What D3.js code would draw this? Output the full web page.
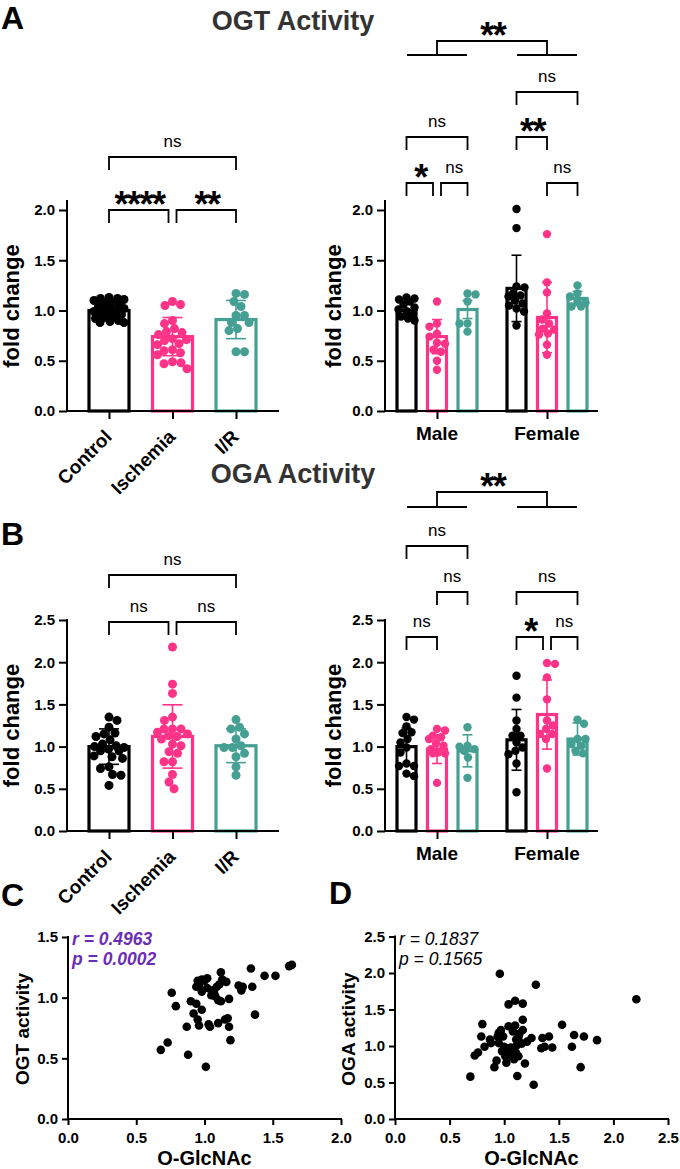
<!DOCTYPE html>
<html><head><meta charset="utf-8">
<script src="https://cdn.jsdelivr.net/npm/d3@7"></script>
<style>body{margin:0;background:#fff}</style>
</head><body><svg id="c" width="680" height="1169"></svg>
<script>
// ---------------- DATA ----------------
const groups = ["Control", "Ischemia", "I/R"];
const sexes = ["Male", "Female"];
const groupColors = ["#000000", "#FF3388", "#45A093"];

const yTicksOGT = [0, 0.5, 1.0, 1.5, 2.0];
const yTicksOGA = [0, 0.5, 1.0, 1.5, 2.0, 2.5];
const xTicksC = [0, 0.5, 1.0, 1.5, 2.0];
const yTicksC = [0, 0.5, 1.0, 1.5];
const xTicksD = [0, 0.5, 1.0, 1.5, 2.0, 2.5];
const yTicksD = [0, 0.5, 1.0, 1.5, 2.0, 2.5];

// OGT activity, pooled
const ogtControl = [1.13,1.12,1.12,1.11,1.10,1.09,1.07,1.05,1.04,1.03,1.02,1.01,1.00,0.99,0.98,0.97,0.96,0.95,0.93,0.92,0.90,0.89,0.88,0.88];
const ogtIschemia = [1.09,1.06,1.05,0.90,0.87,0.82,0.79,0.78,0.76,0.72,0.71,0.70,0.67,0.66,0.61,0.60,0.58,0.56,0.49,0.48,0.47,0.42];
const ogtIR = [1.17,1.16,1.09,1.04,0.95,0.95,0.88,0.88,0.82,0.80,0.59,0.59];
const ogtMean = [1.00, 0.74, 0.91];
const ogtSD = [0.07, 0.19, 0.19];

// OGT activity by sex
const ogtMaleControl = [1.13,1.12,1.11,1.09,1.06,1.03,1.01,0.99,0.97,0.94,0.92,0.90];
const ogtMaleIschemia = [1.09,0.87,0.84,0.77,0.74,0.68,0.67,0.61,0.59,0.50,0.41];
const ogtMaleIR = [1.17,1.16,1.09,0.87,0.87,0.79];
const ogtFemaleControl = [2.01,1.82,1.24,1.23,1.17,1.15,1.14,1.10,1.07,1.05,1.02,0.99,0.85];
const ogtFemaleIschemia = [1.76,1.28,1.18,0.97,0.91,0.87,0.82,0.81,0.77,0.76,0.66,0.56];
const ogtFemaleIR = [1.25,1.17,1.14,1.09,1.08,1.04,1.04];
const ogtMaleMean = [1.00, 0.74, 1.01];
const ogtMaleSD = [0.07, 0.17, 0.09];
const ogtFemaleMean = [1.22, 0.93, 1.12];
const ogtFemaleSD = [0.33, 0.35, 0.07];

// OGA activity, pooled
const ogaControl = [1.35,1.31,1.23,1.16,1.15,1.12,1.08,1.03,1.01,1.00,0.99,0.97,0.95,0.95,0.89,0.88,0.86,0.76,0.74,0.67,0.66,0.54];
const ogaIschemia = [2.18,1.74,1.63,1.35,1.31,1.21,1.21,1.21,1.17,1.15,1.13,1.12,1.09,1.03,1.01,0.94,0.92,0.82,0.82,0.67,0.58,0.50];
const ogaIR = [1.32,1.23,1.21,1.15,1.09,1.01,0.99,0.99,0.92,0.88,0.76,0.66];
const ogaMean = [1.00, 1.12, 1.01];
const ogaSD = [0.21, 0.375, 0.20];

// OGA activity by sex
const ogaMaleControl = [1.35,1.32,1.24,1.17,1.16,1.09,1.05,0.99,0.93,0.80,0.77,0.77,0.68,0.65];
const ogaMaleIschemia = [1.21,1.19,1.13,1.11,1.09,1.04,1.01,0.97,0.93,0.92,0.92,0.57];
const ogaMaleIR = [1.23,1.01,1.00,0.97,0.95,0.87,0.63];
const ogaFemaleControl = [1.84,1.58,1.31,1.21,1.13,1.13,1.05,0.99,0.95,0.91,0.80,0.46];
const ogaFemaleIschemia = [1.99,1.98,1.82,1.56,1.31,1.25,1.21,1.15,1.15,1.09,0.74];
const ogaFemaleIR = [1.32,1.27,1.09,1.09,1.03,1.01,0.95,0.92];
const ogaMaleMean = [1.00, 0.97, 0.95];
const ogaMaleSD = [0.22, 0.17, 0.19];
const ogaFemaleMean = [1.08, 1.38, 1.09];
const ogaFemaleSD = [0.36, 0.41, 0.19];

// significance comparisons: [fromGroup, toGroup, label, level]
const ogtComparisons = [[0,1,"****",0],[1,2,"**",0],[0,2,"ns",1]];
const ogtSexComparisons = [["Male",0,1,"*",0],["Male",1,2,"ns",0],["Female",1,2,"ns",0],["Male",0,2,"ns",1],["Female",0,1,"**",1],["Female",0,2,"ns",2]];
const ogtSexEffect = "**";
const ogaComparisons = [[0,1,"ns",0],[1,2,"ns",0],[0,2,"ns",1]];
const ogaSexComparisons = [["Male",0,1,"ns",0],["Female",0,1,"*",0],["Female",1,2,"ns",0],["Male",1,2,"ns",1],["Female",0,2,"ns",1],["Male",0,2,"ns",2]];
const ogaSexEffect = "**";

// correlations
const ogtCorrX = [0.68,0.73,0.76,0.79,0.87,0.88,0.90,0.92,0.94,0.94,0.95,0.98,0.98,0.95,0.96,0.98,1.01,1.02,1.02,1.03,1.04,1.05,1.06,1.08,1.09,1.10,1.10,1.11,1.12,1.13,1.15,1.16,1.17,1.18,1.18,1.19,1.25,1.27,1.28,1.34,1.35,1.37,1.44,1.52,1.62,1.64,0.96,1.00,1.07,1.12];
const ogtCorrY = [0.57,0.63,1.04,0.93,0.76,0.53,0.97,0.87,0.95,1.09,1.14,1.15,0.90,0.82,0.77,1.05,0.43,1.16,1.08,0.78,0.76,1.02,1.06,1.01,1.09,0.98,0.79,1.11,1.21,1.15,0.82,1.13,0.83,0.99,0.76,0.65,1.10,1.06,1.09,1.24,1.09,0.86,1.18,1.18,1.26,1.27,1.10,1.14,1.04,0.97];
const ogaCorrX = [0.69,0.73,0.76,0.80,0.79,0.82,0.87,0.88,0.91,0.93,0.94,0.95,0.96,0.97,0.95,0.98,0.99,1.00,1.01,1.02,1.04,1.04,1.04,1.05,1.08,1.10,1.10,1.11,1.11,1.11,1.12,1.13,1.14,1.15,1.17,1.17,1.17,1.16,1.19,1.21,1.25,1.27,1.29,1.35,1.34,1.37,1.41,1.44,1.53,1.62,1.64,1.70,1.73,1.85,2.21,1.07,1.06,1.09,0.97,1.13];
const ogaCorrY = [0.58,0.87,0.91,1.30,1.13,0.99,1.09,1.04,0.71,0.80,1.13,1.18,1.99,1.22,1.04,0.93,1.13,0.99,0.86,0.77,1.57,1.27,0.96,0.90,1.20,1.62,1.28,1.09,1.00,0.90,0.59,0.86,1.17,1.04,1.58,1.36,1.22,1.03,0.76,1.06,1.11,0.47,1.84,1.11,0.97,0.99,1.13,0.98,1.29,0.99,1.15,0.71,1.13,1.08,1.64,0.86,0.98,0.82,1.16,1.12];
const ogtCorrStats = ["r = 0.4963", "p = 0.0002"];
const ogaCorrStats = ["r = 0.1837", "p = 0.1565"];

// ---------------- DRAWING ----------------
const FONT = '"Liberation Sans", Arial, Helvetica, sans-serif';
const svg = d3.select("#c");
svg.style("font-family", FONT);

function text(g, x, y, s, o = {}) {
  const t = g.append("text").attr("x", x).attr("y", y).text(s)
    .attr("font-family", o.family || FONT)
    .attr("font-size", o.size || 15)
    .attr("font-weight", o.weight || "normal")
    .attr("fill", o.fill || "#000")
    .attr("text-anchor", o.anchor || "start");
  if (o.style) t.attr("font-style", o.style);
  if (o.ls != null) t.attr("letter-spacing", o.ls);
  if (o.transform) t.attr("transform", o.transform);
  return t;
}

function yAxis(g, x, y, ticks, top, tickLen) {
  g.append("line").attr("x1", x).attr("x2", x).attr("y1", y(0)).attr("y2", top)
    .attr("stroke", "#000").attr("stroke-width", 2).attr("stroke-linecap", "square");
  const a = g.append("g").attr("transform", `translate(${x},0)`)
    .call(d3.axisLeft(y).tickValues(ticks).tickSize(tickLen).tickPadding(4).tickFormat(d3.format(".1f")));
  a.select(".domain").remove();
  a.attr("font-family", FONT).attr("font-size", 15).attr("font-weight", "bold");
  a.selectAll("line").attr("stroke-width", 2);
}

function xAxisLine(g, x1, x2, y0) {
  g.append("line").attr("x1", x1).attr("x2", x2).attr("y1", y0).attr("y2", y0)
    .attr("stroke", "#000").attr("stroke-width", 2).attr("stroke-linecap", "square");
}

function swarm(values, y, r, maxHalf) {
  const order = d3.range(values.length).sort((a, b) => values[b] - values[a]);
  const placed = [];
  const off = new Array(values.length).fill(0);
  const minD = 2 * r * 0.92;
  order.forEach((i, k) => {
    const py = y(values[i]);
    let best = null, bestScore = -1;
    const sgn = k % 2 ? 1 : -1;
    for (let s = 0; s <= maxHalf; s += 0.5) {
      for (const c of (s === 0 ? [0] : [s * sgn, -s * sgn])) {
        let md = Infinity;
        for (const p of placed) {
          const d = Math.hypot(p[0] - c, p[1] - py);
          if (d < md) md = d;
        }
        if (md >= minD) { best = c; bestScore = Infinity; break; }
        if (md > bestScore) { bestScore = md; best = c; }
      }
      if (bestScore === Infinity) break;
    }
    off[i] = best;
    placed.push([best, py]);
  });
  return off;
}

function drawBar(g, cx, w, y, mean, sd, vals, color, r, capW, maxHalf) {
  g.append("rect").attr("x", cx - w / 2).attr("y", y(mean)).attr("width", w)
    .attr("height", y(0) - y(mean)).attr("fill", "#fff").attr("stroke", color).attr("stroke-width", 3.2);
  const offs = swarm(vals, y, r, maxHalf);
  g.selectAll(null).data(vals).enter().append("circle")
    .attr("cx", (d, i) => cx + offs[i]).attr("cy", d => y(d)).attr("r", r).attr("fill", color);
  const eb = g.append("g").attr("stroke", color).attr("stroke-width", 1.6).attr("fill", "none");
  eb.append("line").attr("x1", cx).attr("x2", cx).attr("y1", y(mean - sd)).attr("y2", y(mean + sd));
  eb.append("line").attr("x1", cx - capW / 2).attr("x2", cx + capW / 2).attr("y1", y(mean - sd)).attr("y2", y(mean - sd));
  eb.append("line").attr("x1", cx - capW / 2).attr("x2", cx + capW / 2).attr("y1", y(mean + sd)).attr("y2", y(mean + sd));
}

function sigLabel(g, x, yLine, label) {
  if (label === "ns") {
    text(g, x, yLine - 10.5, "ns", { size: 17, anchor: "middle" });
  } else {
    text(g, x + 0.75, yLine + 7, label, { size: 36, weight: "bold", anchor: "middle", ls: -1.5 });
  }
}

function bracket(g, x1, x2, yLine, label, leg = 13) {
  g.append("path").attr("d", `M${x1},${yLine + leg}V${yLine}H${x2}V${yLine + leg}`)
    .attr("fill", "none").attr("stroke", "#000").attr("stroke-width", 1.8);
  sigLabel(g, (x1 + x2) / 2, yLine, label);
}

function drawComparisons(g, comps, center, levels) {
  comps.forEach(c => {
    const n = c.length;
    const key = n === 5 ? c[0] : null;
    const a = n === 5 ? c[1] : c[0], b = n === 5 ? c[2] : c[1];
    const label = c[n - 2], lev = c[n - 1];
    let x1 = center(key, a), x2 = center(key, b);
    comps.forEach(o => {
      if (o === c) return;
      const ok = o.length === 5 ? o[0] : null;
      if (ok !== key || o[o.length - 1] !== lev) return;
      const oa = o.length === 5 ? o[1] : o[0], ob = o.length === 5 ? o[2] : o[1];
      if (oa === b) x2 -= 4;
      if (ob === a) x1 += 4;
    });
    bracket(g, x1, x2, levels[lev], label);
  });
}

function pooledPanel(cfg) {
  const g = svg.append("g");
  const x = d3.scalePoint().domain(groups).range([109, 236]);
  const y = d3.scaleLinear().domain([0, cfg.max]).range([cfg.y0, cfg.yTop]);
  yAxis(g, 67, y, cfg.ticks, cfg.axisTop, 8);
  groups.forEach((k, i) => drawBar(g, x(k), 40, y, cfg.mean[i], cfg.sd[i], cfg.vals[i], groupColors[i], 4.5, 20, 15));
  xAxisLine(g, 67, 278, cfg.y0);
  const xa = g.append("g").attr("transform", `translate(0,${cfg.y0})`)
    .call(d3.axisBottom(x).tickSize(8).tickFormat(""));
  xa.select(".domain").remove();
  xa.selectAll("line").attr("stroke-width", 2);
  groups.forEach(k => text(g, 0, 0, k, { size: 19, weight: "bold", anchor: "end",
    transform: `translate(${x(k) + 4},${cfg.y0 + 27}) rotate(-45)` }));
  text(g, 0, 0, "fold change", { size: 22, weight: "bold", anchor: "middle",
    transform: `translate(19,${(cfg.y0 + cfg.axisTop) / 2}) rotate(-90)` });
  drawComparisons(g, cfg.comps, (s, i) => x(groups[i]), cfg.levels);
}

function sexPanel(cfg) {
  const g = svg.append("g");
  const xs = d3.scalePoint().domain(sexes).range([437, 547]);
  const xg = d3.scalePoint().domain(groups).range([-30.5, 30.5]);
  const y = d3.scaleLinear().domain([0, cfg.max]).range([cfg.y0, cfg.yTop]);
  yAxis(g, 385, y, cfg.ticks, cfg.axisTop, 8);
  sexes.forEach((s, si) => groups.forEach((k, i) => {
    drawBar(g, xs(s) + xg(k), 19, y, cfg.mean[si][i], cfg.sd[si][i], cfg.vals[si][i], groupColors[i], 4.2, 10, 8);
  }));
  xAxisLine(g, 385, 597, cfg.y0);
  const xa = g.append("g").attr("transform", `translate(0,${cfg.y0})`)
    .call(d3.axisBottom(xs).tickSize(8).tickFormat(""));
  xa.select(".domain").remove();
  xa.selectAll("line").attr("stroke-width", 2);
  sexes.forEach(s => text(g, xs(s), cfg.y0 + 29, s, { size: 19, weight: "bold", anchor: "middle" }));
  text(g, 0, 0, "fold change", { size: 22, weight: "bold", anchor: "middle",
    transform: `translate(341,${(cfg.y0 + cfg.axisTop) / 2}) rotate(-90)` });
  drawComparisons(g, cfg.comps, (s, i) => xs(s) + xg(groups[i]), cfg.levels);
  // main sex effect bracket
  const [yLow, yHigh] = cfg.sexLevels;
  sexes.forEach(s => {
    g.append("line").attr("x1", xs(s) - 30).attr("x2", xs(s) + 30).attr("y1", yLow).attr("y2", yLow)
      .attr("stroke", "#000").attr("stroke-width", 1.8);
  });
  g.append("path").attr("d", `M${xs("Male")},${yLow}V${yHigh}H${xs("Female")}V${yLow}`)
    .attr("fill", "none").attr("stroke", "#000").attr("stroke-width", 1.8);
  sigLabel(g, (xs("Male") + xs("Female")) / 2, yHigh, cfg.sexLabel);
}

function corrPanel(cfg) {
  const g = svg.append("g");
  const x = d3.scaleLinear().domain([0, cfg.xmax]).range([cfg.x0, cfg.x1]);
  const y = d3.scaleLinear().domain([0, cfg.ymax]).range([1119, cfg.yTop]);
  yAxis(g, cfg.x0, y, cfg.yTicks, cfg.yTop, 6);
  xAxisLine(g, cfg.x0, cfg.x1, 1119);
  const xa = g.append("g").attr("transform", "translate(0,1119)")
    .call(d3.axisBottom(x).tickValues(cfg.xTicks).tickSize(6).tickPadding(7).tickFormat(d3.format(".1f")));
  xa.select(".domain").remove();
  xa.attr("font-family", FONT).attr("font-size", 15).attr("font-weight", "bold");
  xa.selectAll("line").attr("stroke-width", 2);
  g.selectAll(null).data(cfg.xs).enter().append("circle")
    .attr("cx", d => x(d)).attr("cy", (d, i) => y(cfg.ys[i])).attr("r", 4.3).attr("fill", "#000");
  text(g, (cfg.x0 + cfg.x1) / 2, 1165, "O-GlcNAc", { size: 20, weight: "bold", anchor: "middle" });
  text(g, 0, 0, cfg.ylabel, { size: 19, weight: "bold", anchor: "middle",
    transform: `translate(${cfg.ylabX},1029) rotate(-90)` });
  cfg.stats.forEach((s, i) => text(g, cfg.x0 + 4, 945 + i * 20, s,
    { size: 17.5, weight: cfg.statWeight, style: "italic", fill: cfg.statColor }));
}

// titles & panel letters
text(svg, 293, 30, "OGT Activity", { size: 27, weight: "bold", anchor: "middle", fill: "#333" });
text(svg, 293, 483, "OGA Activity", { size: 27, weight: "bold", anchor: "middle", fill: "#333" });
text(svg, 1, 29, "A", { size: 32, weight: "bold" });
text(svg, 1, 545, "B", { size: 32, weight: "bold" });
text(svg, 1, 906, "C", { size: 32, weight: "bold" });
text(svg, 329, 904, "D", { size: 32, weight: "bold" });

pooledPanel({ y0: 411, yTop: 210, axisTop: 201, max: 2.0, ticks: yTicksOGT,
  mean: ogtMean, sd: ogtSD, vals: [ogtControl, ogtIschemia, ogtIR],
  comps: ogtComparisons, levels: [210, 157] });
sexPanel({ y0: 411, yTop: 210, axisTop: 201, max: 2.0, ticks: yTicksOGT,
  mean: [ogtMaleMean, ogtFemaleMean], sd: [ogtMaleSD, ogtFemaleSD],
  vals: [[ogtMaleControl, ogtMaleIschemia, ogtMaleIR], [ogtFemaleControl, ogtFemaleIschemia, ogtFemaleIR]],
  comps: ogtSexComparisons, levels: [183, 137, 92], sexLevels: [55, 41], sexLabel: ogtSexEffect });
pooledPanel({ y0: 831, yTop: 620, axisTop: 620, max: 2.5, ticks: yTicksOGA,
  mean: ogaMean, sd: ogaSD, vals: [ogaControl, ogaIschemia, ogaIR],
  comps: ogaComparisons, levels: [622, 575] });
sexPanel({ y0: 831, yTop: 620, axisTop: 620, max: 2.5, ticks: yTicksOGA,
  mean: [ogaMaleMean, ogaFemaleMean], sd: [ogaMaleSD, ogaFemaleSD],
  vals: [[ogaMaleControl, ogaMaleIschemia, ogaMaleIR], [ogaFemaleControl, ogaFemaleIschemia, ogaFemaleIR]],
  comps: ogaSexComparisons, levels: [637, 592, 546], sexLevels: [507, 492], sexLabel: ogaSexEffect });

corrPanel({ x0: 68, x1: 341, xmax: 2.0, ymax: 1.5, yTop: 937, xTicks: xTicksC, yTicks: yTicksC,
  xs: ogtCorrX, ys: ogtCorrY, ylabel: "OGT activity", ylabX: 29,
  stats: ogtCorrStats, statWeight: "bold", statColor: "#6A2DB5" });
corrPanel({ x0: 395, x1: 668, xmax: 2.5, ymax: 2.5, yTop: 936.5, xTicks: xTicksD, yTicks: yTicksD,
  xs: ogaCorrX, ys: ogaCorrY, ylabel: "OGA activity", ylabX: 355,
  stats: ogaCorrStats, statWeight: "normal", statColor: "#000" });
</script>
</body></html>
